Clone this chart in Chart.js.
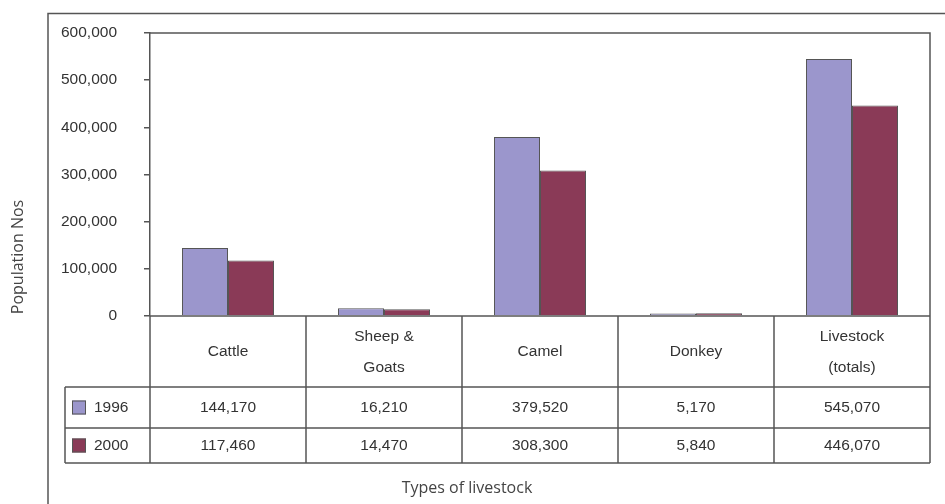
<!DOCTYPE html>
<html>
<head>
<meta charset="utf-8">
<script src="https://cdn.jsdelivr.net/npm/chart.js@4"></script>
<style>
  html, body { margin: 0; padding: 0; background: #fff; }
  canvas { display: block; }
</style>
</head>
<body>
<canvas id="livestockChart" width="945" height="504"></canvas>
<script>
// data
const categories = [['Cattle'], ['Sheep &', 'Goats'], ['Camel'], ['Donkey'], ['Livestock', '(totals)']];
const seriesNames = ['1996', '2000'];
const values1996 = [144170, 16210, 379520, 5170, 545070];
const values2000 = [117460, 14470, 308300, 5840, 446070];
const yMin = 0;
const yMax = 600000;
const yStep = 100000;

const colors = ['#9b96cc', '#8a3a57'];
const lineColor = '#555555';
const textColor = '#333333';
const tableFont = '15.5px "Liberation Sans", Arial, sans-serif';

function fmt(v){
    return v.toLocaleString('en-US');
}

// frame, data table and axis titles
const tablePlugin = {
    id: 'tablePlugin',
    afterDraw(chart){
        const c = chart.ctx;
        const area = chart.chartArea;
        const xs = chart.scales.x;
        const ys = chart.scales.y;
        const step = xs.getPixelForValue(1) - xs.getPixelForValue(0);
        const y0 = ys.getPixelForValue(0);
        const headerBottom = y0 + 71;
        const row1Bottom = headerBottom + 41;
        const row2Bottom = row1Bottom + 35;
        const legendLeft = 65;

        c.save();
        c.strokeStyle = lineColor;
        c.lineWidth = 1.5;

        // outer frame
        c.strokeRect(48, 13.5, 1000, 1000);

        // plot frame
        c.beginPath();
        c.moveTo(area.left, area.top);
        c.lineTo(area.right, area.top);
        c.lineTo(area.right, y0);
        c.moveTo(area.left, y0);
        c.lineTo(area.right, y0);
        c.stroke();

        // table vertical lines
        c.beginPath();
        for(let i = 0; i <= categories.length; i++){
            const x = xs.getPixelForValue(0) - step / 2 + i * step;
            c.moveTo(x, y0);
            c.lineTo(x, row2Bottom);
        }
        c.moveTo(legendLeft, headerBottom);
        c.lineTo(legendLeft, row2Bottom);
        [headerBottom, row1Bottom, row2Bottom].forEach(y => {
            c.moveTo(legendLeft, y);
            c.lineTo(area.right, y);
        });
        c.stroke();

        // header text
        c.fillStyle = textColor;
        c.font = tableFont;
        c.textAlign = 'center';
        c.textBaseline = 'middle';
        categories.forEach((lab, i) => {
            const x = xs.getPixelForValue(i);
            const mid = (y0 + headerBottom) / 2;
            if(lab.length === 1){
                c.fillText(lab[0], x, mid);
            } else {
                c.fillText(lab[0], x, mid - 15);
                c.fillText(lab[1], x, mid + 16);
            }
        });

        // value rows
        const rows = [values1996, values2000];
        const rowMid = [(headerBottom + row1Bottom) / 2, (row1Bottom + row2Bottom) / 2];
        rows.forEach((vals, r) => {
            vals.forEach((v, i) => {
                c.fillText(fmt(v), xs.getPixelForValue(i), rowMid[r]);
            });
            // legend swatch
            c.fillStyle = colors[r];
            c.fillRect(72, rowMid[r] - 7, 14, 14);
            c.lineWidth = 1;
            c.strokeRect(72.5, rowMid[r] - 6.5, 13, 13);
            c.fillStyle = textColor;
            c.textAlign = 'left';
            c.fillText(seriesNames[r], 94, rowMid[r]);
            c.textAlign = 'center';
        });

        // axis titles
        c.font = '16px "Open Sans", sans-serif';
        c.fillStyle = '#444';
        c.fillText('Types of livestock', 467, 488);
        c.translate(18, 257);
        c.rotate(-Math.PI / 2);
        c.fillText('Population Nos', 0, 0);
        c.restore();
    }
};

new Chart(document.getElementById('livestockChart'), {
    type: 'bar',
    data: {
        labels: categories,
        datasets: [{
            label: seriesNames[0],
            data: values1996,
            backgroundColor: colors[0],
            borderColor: '#555',
            borderWidth: 1
        }, {
            label: seriesNames[1],
            data: values2000,
            backgroundColor: colors[1],
            borderColor: '#555',
            borderWidth: 1
        }]
    },
    options: {
        responsive: false,
        animation: false,
        layout: {
            padding: { top: 33, right: 15, bottom: 188, left: 0 }
        },
        datasets: {
            bar: {
                categoryPercentage: 0.59,
                barPercentage: 1
            }
        },
        plugins: {
            legend: { display: false },
            tooltip: { enabled: false }
        },
        scales: {
            x: {
                display: false
            },
            y: {
                min: yMin,
                max: yMax,
                afterFit(scale){
                    scale.width = 150;
                    scale.paddingTop = 0;
                    scale.paddingBottom = 0;
                },
                ticks: {
                    stepSize: yStep,
                    padding: 27,
                    color: textColor,
                    font: { family: '"Liberation Sans", Arial, sans-serif', size: 15.5 },
                    callback: v => fmt(v)
                },
                grid: {
                    drawOnChartArea: false,
                    drawTicks: true,
                    tickLength: 6,
                    color: lineColor,
                    lineWidth: 1.5
                },
                border: {
                    display: true,
                    color: lineColor,
                    width: 1.5
                }
            }
        }
    },
    plugins: [tablePlugin]
});
</script>
</body>
</html>
